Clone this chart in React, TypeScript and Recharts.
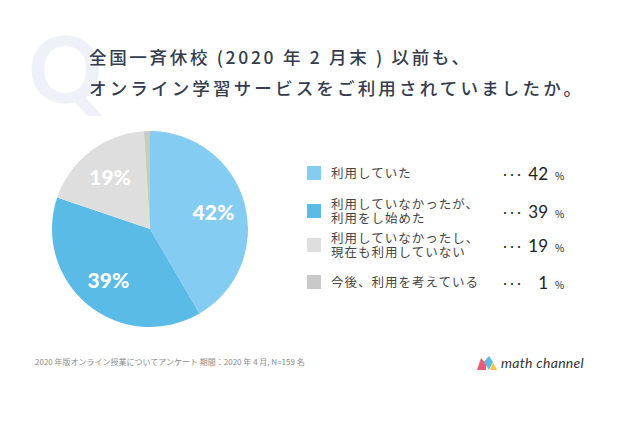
import React from 'react';
import { PieChart, Pie, Cell } from 'recharts';

const labels = [
  '利用していた',
  '利用していなかったが、\n利用をし始めた',
  '利用していなかったし、\n現在も利用していない',
  '今後、利用を考えている',
];
const values = [42, 39, 19, 1];
const colors = ['#84ccf2', '#5abbe7', '#dedede', '#c9c9c9'];
const legendY = [173, 211, 245, 282];

const titleLines = [
  '全国一斉休校 (2020 年 2 月末 ) 以前も、',
  'オンライン学習サービスをご利用されていましたか。',
];

const data = labels.map((name, i) => ({ name, value: values[i] }));

const RAD = Math.PI / 180;
const jp = '"Noto Sans CJK JP", "Noto Sans", sans-serif';

const renderLabel = (props: any) => {
  const { cx, cy, midAngle, outerRadius, value } = props;
  if (value < 5) return null;
  const r = outerRadius * 0.67;
  const x = cx + r * Math.cos(-midAngle * RAD);
  const y = cy + r * Math.sin(-midAngle * RAD);
  return (
    <text
      x={x}
      y={y}
      fill="#fff"
      textAnchor="middle"
      dominantBaseline="central"
      fontFamily="Lato, 'Noto Sans', sans-serif"
      fontWeight={900}
      fontSize={21}
    >
      {value}%
    </text>
  );
};

const App: React.FC = () => {
  return (
    <div style={{ position: 'absolute', left: 0, top: 0, width: 640, height: 426, background: '#fff', overflow: 'hidden', fontFamily: jp }}>
      <div style={{ position: 'absolute', left: 28, top: 22, fontSize: 92, fontWeight: 700, color: '#eef2f8', fontFamily: 'Lato, sans-serif', lineHeight: 1 }}>Q</div>
      <svg style={{ position: 'absolute', left: 0, top: 0 }} width={640} height={120}>
        <text x={89} y={64} textLength={380} lengthAdjust="spacing" fontSize={17.5} fontWeight={500} fill="#343c4d" fontFamily={jp}>
          {titleLines[0]}
        </text>
        <text x={89} y={95} textLength={492} lengthAdjust="spacing" fontSize={17.5} fontWeight={500} fill="#343c4d" fontFamily={jp}>
          {titleLines[1]}
        </text>
      </svg>

      <div style={{ position: 'absolute', left: 0, top: 0 }}>
        <PieChart width={640} height={426} margin={{ top: 0, right: 0, bottom: 0, left: 0 }}>
          <Pie
            data={data}
            dataKey="value"
            cx={150}
            cy={229}
            outerRadius={98}
            startAngle={90}
            endAngle={-270}
            stroke="none"
            label={renderLabel}
            labelLine={false}
            isAnimationActive={false}
          >
            {data.map((d, i) => (
              <Cell key={d.name} fill={colors[i]} />
            ))}
          </Pie>
        </PieChart>
      </div>

      {data.map((d, i) => (
        <div key={d.name}>
          <div style={{ position: 'absolute', left: 307, top: legendY[i] - 7, width: 14, height: 14, background: colors[i] }} />
          <div style={{ position: 'absolute', left: 331, top: legendY[i], transform: 'translateY(-50%)', fontSize: 12.5, color: '#444', lineHeight: '14px', whiteSpace: 'pre', letterSpacing: 1 }}>
            {d.name}
          </div>
          <div style={{ position: 'absolute', left: 502, top: legendY[i], transform: 'translateY(-50%)', width: 70, display: 'flex', alignItems: 'baseline', color: '#222', whiteSpace: 'pre' }}>
            <span style={{ fontSize: 12, letterSpacing: 1 }}>･･･</span>
            <span style={{ fontSize: 17, fontFamily: 'Lato, sans-serif', width: 25, textAlign: 'right' }}>{d.value}</span>
            <span style={{ fontSize: 10, marginLeft: 7 }}>%</span>
          </div>
        </div>
      ))}

      <div style={{ position: 'absolute', left: 35, top: 356, fontSize: 8, color: '#8a8a8a' }}>
        2020 年版オンライン授業についてアンケート 期間：2020 年 4 月, N=159 名
      </div>

      <div style={{ position: 'absolute', left: 477, top: 354, display: 'flex', alignItems: 'center' }}>
        <svg width={20} height={14} viewBox="0 0 20 14">
          <polygon points="0,14 4,2 9,8 9,14" fill="#ef5b73" />
          <polygon points="7,6 12,0 16,6 12,14" fill="#5bbae6" />
          <polygon points="16,6 20,14 13,14" fill="#f6c343" />
        </svg>
        <span style={{ marginLeft: 4, fontSize: 14, fontStyle: 'italic', fontFamily: 'Lato, sans-serif', color: '#333', letterSpacing: 0.3 }}>math channel</span>
      </div>
    </div>
  );
};

export default App;
